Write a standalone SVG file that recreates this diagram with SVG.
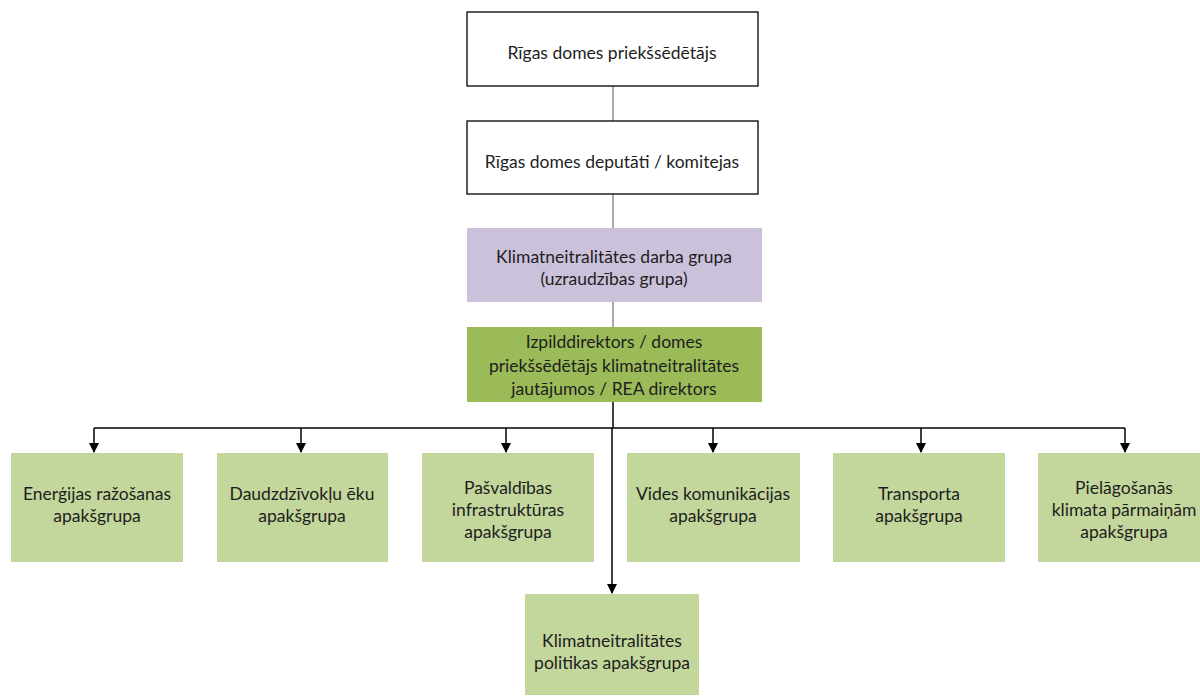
<svg xmlns="http://www.w3.org/2000/svg" width="1200" height="697" viewBox="0 0 1200 697">
<style>
  .white{fill:#ffffff;stroke:#000000;stroke-width:1.3}
  .purple{fill:#ccc1da;stroke:none}
  .dgreen{fill:#9bbb59;stroke:none}
  .lgreen{fill:#c3d69b;stroke:none}
  text{font-family:Lato,"Open Sans","Liberation Sans",sans-serif;font-size:17.5px;fill:#1e1e1e;text-anchor:middle}
  .thin{stroke:#555555;stroke-width:1;fill:none}
  .conn{stroke:#000000;stroke-width:1.5;fill:none}
</style>
<defs>
  <marker id="arr" markerWidth="10" markerHeight="10" refX="9" refY="5" orient="auto" markerUnits="userSpaceOnUse">
    <path d="M0,0 L10,5 L0,10 Z" fill="#000000"/>
  </marker>
</defs>
<rect width="1200" height="697" fill="#ffffff"/>
<g id="connectors">
  <line class="thin" x1="613" y1="86" x2="613" y2="121"/>
  <line class="thin" x1="613" y1="194" x2="613" y2="228"/>
  <line class="thin" x1="613" y1="302" x2="613" y2="327"/>
  <line class="conn" x1="613" y1="402" x2="613" y2="428"/>
  <line class="conn" x1="94" y1="428" x2="1125" y2="428"/>
  <line class="conn" x1="94" y1="428" x2="94" y2="452" marker-end="url(#arr)"/>
  <line class="conn" x1="301" y1="428" x2="301" y2="452" marker-end="url(#arr)"/>
  <line class="conn" x1="506" y1="428" x2="506" y2="452" marker-end="url(#arr)"/>
  <line class="conn" x1="713" y1="428" x2="713" y2="452" marker-end="url(#arr)"/>
  <line class="conn" x1="921" y1="428" x2="921" y2="452" marker-end="url(#arr)"/>
  <line class="conn" x1="1125" y1="428" x2="1125" y2="452" marker-end="url(#arr)"/>
  <line class="conn" x1="612" y1="428" x2="612" y2="593" marker-end="url(#arr)"/>
</g>
<g id="n1">
  <rect class="white" x="467" y="12" width="291" height="74"/>
  <text x="612" y="59">Rīgas domes priekšsēdētājs</text>
</g>
<g id="n2">
  <rect class="white" x="467" y="121" width="291" height="73"/>
  <text x="612" y="168">Rīgas domes deputāti / komitejas</text>
</g>
<g id="n3">
  <rect class="purple" x="467" y="228" width="295" height="74"/>
  <text x="614" y="263">Klimatneitralitātes darba grupa</text>
  <text x="614" y="285">(uzraudzības grupa)</text>
</g>
<g id="n4">
  <rect class="dgreen" x="467" y="327" width="295" height="75"/>
  <text x="614" y="348">Izpilddirektors / domes</text>
  <text x="614" y="372">priekšsēdētājs klimatneitralitātes</text>
  <text x="614" y="395">jautājumos / REA direktors</text>
</g>
<g id="s1">
  <rect class="lgreen" x="11" y="453" width="172" height="109"/>
  <text x="97" y="500">Enerģijas ražošanas</text>
  <text x="97" y="522">apakšgrupa</text>
</g>
<g id="s2">
  <rect class="lgreen" x="217" y="453" width="171" height="109"/>
  <text x="302" y="500">Daudzdzīvokļu ēku</text>
  <text x="302" y="522">apakšgrupa</text>
</g>
<g id="s3">
  <rect class="lgreen" x="422" y="453" width="172" height="109"/>
  <text x="508" y="494">Pašvaldības</text>
  <text x="508" y="516">infrastruktūras</text>
  <text x="508" y="538">apakšgrupa</text>
</g>
<g id="s4">
  <rect class="lgreen" x="627" y="453" width="173" height="109"/>
  <text x="713" y="500">Vides komunikācijas</text>
  <text x="713" y="522">apakšgrupa</text>
</g>
<g id="s5">
  <rect class="lgreen" x="833" y="453" width="172" height="109"/>
  <text x="919" y="500">Transporta</text>
  <text x="919" y="522">apakšgrupa</text>
</g>
<g id="s6">
  <rect class="lgreen" x="1038" y="453" width="172" height="109"/>
  <text x="1124" y="494">Pielāgošanās</text>
  <text x="1124" y="516">klimata pārmaiņām</text>
  <text x="1124" y="538">apakšgrupa</text>
</g>
<g id="s7">
  <rect class="lgreen" x="525" y="594" width="174" height="101"/>
  <text x="612" y="647">Klimatneitralitātes</text>
  <text x="612" y="669">politikas apakšgrupa</text>
</g>
</svg>
